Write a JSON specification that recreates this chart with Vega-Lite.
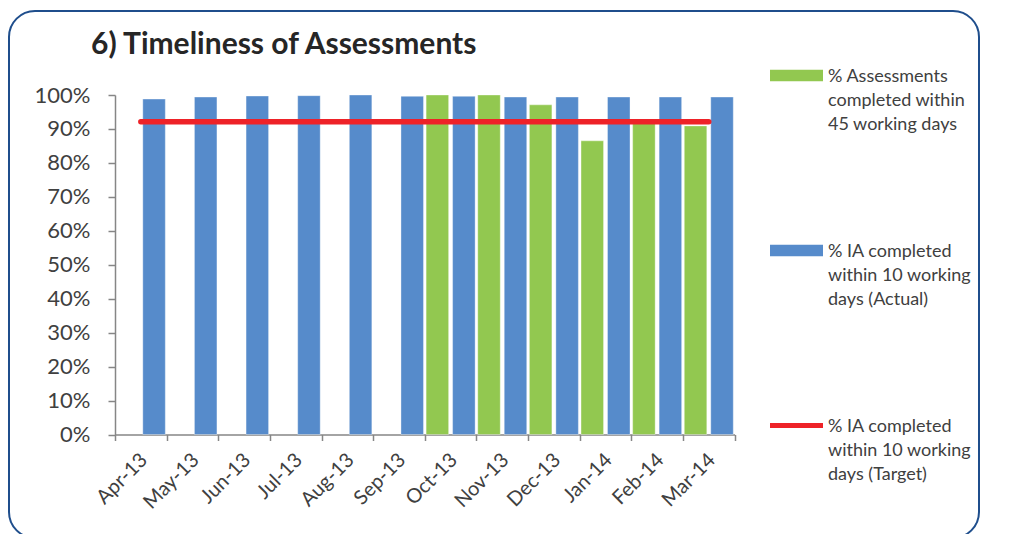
{
  "$schema": "https://vega.github.io/schema/vega-lite/v6.json",
  "autosize": "none",
  "width": 970,
  "height": 527,
  "padding": {"left": 9, "top": 11, "right": 35, "bottom": 0},
  "background": "white",
  "config": {
    "font": "Lato",
    "view": {"stroke": "#1F4E8C", "strokeWidth": 2, "cornerRadius": 26}
  },
  "title": {
    "text": "6) Timeliness of Assessments",
    "anchor": "start",
    "frame": "group",
    "orient": "top",
    "offset": 0,
    "dx": 82,
    "dy": 73,
    "baseline": "alphabetic",
    "fontSize": 30,
    "fontWeight": "bold",
    "font": "Lato",
    "color": "#262626"
  },
  "data": {
    "values": [
      {"month": "Apr-13", "series": "IA10", "value": 0.988},
      {"month": "May-13", "series": "IA10", "value": 0.994},
      {"month": "Jun-13", "series": "IA10", "value": 0.997},
      {"month": "Jul-13", "series": "IA10", "value": 0.998},
      {"month": "Aug-13", "series": "IA10", "value": 1.0},
      {"month": "Sep-13", "series": "IA10", "value": 0.996},
      {"month": "Oct-13", "series": "A45", "value": 1.0},
      {"month": "Oct-13", "series": "IA10", "value": 0.996},
      {"month": "Nov-13", "series": "A45", "value": 1.0},
      {"month": "Nov-13", "series": "IA10", "value": 0.994},
      {"month": "Dec-13", "series": "A45", "value": 0.971},
      {"month": "Dec-13", "series": "IA10", "value": 0.994},
      {"month": "Jan-14", "series": "A45", "value": 0.865},
      {"month": "Jan-14", "series": "IA10", "value": 0.994},
      {"month": "Feb-14", "series": "A45", "value": 0.924},
      {"month": "Feb-14", "series": "IA10", "value": 0.994},
      {"month": "Mar-14", "series": "A45", "value": 0.909},
      {"month": "Mar-14", "series": "IA10", "value": 0.994},
      {"month": "Apr-13", "series": "Target", "value": 0.921},
      {"month": "May-13", "series": "Target", "value": 0.921},
      {"month": "Jun-13", "series": "Target", "value": 0.921},
      {"month": "Jul-13", "series": "Target", "value": 0.921},
      {"month": "Aug-13", "series": "Target", "value": 0.921},
      {"month": "Sep-13", "series": "Target", "value": 0.921},
      {"month": "Oct-13", "series": "Target", "value": 0.921},
      {"month": "Nov-13", "series": "Target", "value": 0.921},
      {"month": "Dec-13", "series": "Target", "value": 0.921},
      {"month": "Jan-14", "series": "Target", "value": 0.921},
      {"month": "Feb-14", "series": "Target", "value": 0.921},
      {"month": "Mar-14", "series": "Target", "value": 0.921}
    ]
  },
  "encoding": {
    "x": {
      "field": "month",
      "type": "nominal",
      "sort": ["Apr-13","May-13","Jun-13","Jul-13","Aug-13","Sep-13","Oct-13","Nov-13","Dec-13","Jan-14","Feb-14","Mar-14"],
      "scale": {"range": [106, 725.6], "paddingInner": 0, "paddingOuter": 0},
      "axis": {
        "title": null,
        "offset": -103.5,
        "tickBand": "extent",
        "tickSize": 6,
        "tickColor": "#868686",
        "tickWidth": 1.5,
        "domainColor": "#868686",
        "domainWidth": 1.5,
        "labelAngle": -45,
        "labelAlign": "right",
        "labelBaseline": "middle",
        "labelPadding": 16,
        "labelOffset": 3,
        "labelFontSize": 20,
        "labelColor": "#404040",
        "labelFont": "Lato",
        "grid": false
      }
    },
    "y": {
      "field": "value",
      "type": "quantitative",
      "scale": {"domain": [0, 1], "range": [423.5, 84], "nice": false, "zero": true},
      "axis": {
        "title": null,
        "offset": -106,
        "values": [0, 0.1, 0.2, 0.3, 0.4, 0.5, 0.6, 0.7, 0.8, 0.9, 1.0],
        "format": ".0%",
        "tickSize": 7,
        "tickColor": "#868686",
        "tickWidth": 1.5,
        "domainColor": "#868686",
        "domainWidth": 1.5,
        "labelPadding": 18,
        "labelFontSize": 22,
        "labelColor": "#404040",
        "labelFont": "Lato",
        "grid": false
      }
    },
    "color": {
      "field": "series",
      "type": "nominal",
      "scale": {"domain": ["A45", "IA10", "Target"], "range": ["#92C850", "#568BCB", "#EE2228"]},
      "legend": {
        "title": null,
        "orient": "none",
        "legendX": 761,
        "legendY": 38,
        "padding": 0,
        "symbolSize": 2809,
        "symbolType": "M-1,-0.22H1V0.22H-1Z",
        "labelOffset": 5,
        "labelFontSize": 18,
        "labelFont": "Lato",
        "labelColor": "#404040",
        "labelBaseline": "top",
        "labelLimit": 300,
        "rowPadding": 90,
        "labelExpr": "datum.value == 'A45' ? ['% Assessments', 'completed within', '45 working days'] : datum.value == 'IA10' ? ['% IA completed', 'within 10 working', 'days (Actual)'] : ['% IA completed', 'within 10 working', 'days (Target)']",
        "encode": {
          "symbols": {
            "update": {
              "shape": [
                {"test": "datum.value == 'Target'", "value": "M-1,-0.09H1V0.09H-1Z"},
                {"value": "M-1,-0.22H1V0.22H-1Z"}
              ],
              "fill": {"scale": "color", "field": "value"},
              "stroke": {"value": "transparent"},
              "strokeWidth": {"value": 0},
              "opacity": {"value": 1}
            }
          },
          "labels": {
            "update": {
              "lineHeight": {"value": 24},
              "dy": {"value": -8}
            }
          }
        }
      }
    }
  },
  "layer": [
    {
      "transform": [{"filter": "datum.series != 'Target'"}],
      "mark": {"type": "bar", "stroke": "#ffffff", "strokeOpacity": 0.35, "strokeWidth": 1},
      "encoding": {
        "xOffset": {
          "field": "series",
          "type": "nominal",
          "scale": {"domain": ["A45", "IA10"], "paddingInner": 0.15, "paddingOuter": 0.05}
        }
      }
    },
    {
      "transform": [{"filter": "datum.series == 'Target'"}],
      "mark": {"type": "line", "strokeWidth": 5.5, "strokeCap": "round"},
      "encoding": {}
    }
  ]
}
